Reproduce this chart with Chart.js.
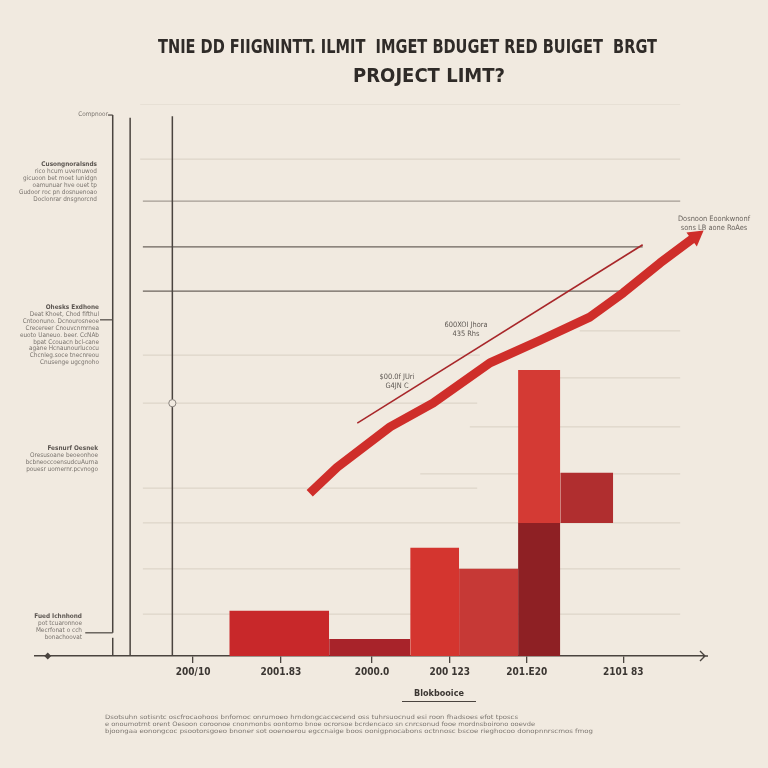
<!DOCTYPE html>
<html>
<head>
<meta charset="utf-8">
<title>Project limit budget</title>
<script src="https://cdn.jsdelivr.net/npm/chart.js@4.4.1/dist/chart.umd.min.js"></script>
<style>
  html, body { margin: 0; padding: 0; background: #F1EAE0; }
  #wrap { position: relative; width: 768px; height: 768px; overflow: hidden;
          font-family: "DejaVu Sans Condensed", "Liberation Sans Narrow", "Liberation Sans", sans-serif; }
  #wrap canvas { position: absolute; left: 0; top: 0; }
  .title { position: absolute; white-space: nowrap; font-family: "Liberation Sans Narrow", "DejaVu Sans Condensed", sans-serif;
           font-weight: bold; font-size: 19px; line-height: 20px; color: #2f2b28; transform-origin: left center; }
  .note { position: absolute; white-space: nowrap; font-size: 6.4px; line-height: 6.9px; color: #7a746e; }
  .note b { color: #5b5550; font-weight: bold; }
  .r { text-align: right; }
  .c { text-align: center; transform: translateX(-50%); }
  .para { position: absolute; left: 105px; white-space: nowrap; font-size: 6px; line-height: 7px; color: #7d7771; transform-origin: left center; }
  #foot { position: absolute; left: 439px; top: 688px; transform: translateX(-50%); font-size: 9px; font-weight: bold; color: #3c3733; }
  #footline { position: absolute; left: 402px; top: 701px; width: 74px; border-top: 1.4px solid #4a443f; }
</style>
</head>
<body>
<div id="wrap">
  <canvas id="myChart" width="768" height="768"></canvas>

  <div class="title" id="t1" data-w="499" style="left:158px; top:36px;">TNIE DD FIIGNINTT. ILMIT&nbsp; IMGET BDUGET RED BUIGET&nbsp; BRGT</div>
  <div class="title" id="t2" data-w="152" style="left:353px; top:65px;">PROJECT LIMT?</div>

  <div class="note r" style="right:660px; top:111px;">Compnoor</div>

  <div class="note r" style="right:671px; top:161px;">
    <b>Cusongnoralsnds</b><br>rico hcum uvernuwod<br>gicuoon bet moet lunidgn<br>oamunuar hve ouet tp<br>Gudoor roc pn dosnuenoao<br>Doclonrar dnsgnorcnd
  </div>

  <div class="note r" style="right:669px; top:304px;">
    <b>Ohesks Exdhone</b><br>Deat Khoet, Chod fifthul<br>Cntoonuno. Dcnourosneoe<br>Crecereer Cnouvcnmrnea<br>euoto Uaneuo. beer. CcNAb<br>bpat Ccouacn bcl-cane<br>agane Hcnaunourlucocu<br>Chcnleg.soce tnecnreou<br>Cnusenge ugcgnoho
  </div>

  <div class="note r" style="right:670px; top:445px;">
    <b>Fesnurf Oesnek</b><br>Oresusoane beoeonhoe<br>bcbneoccoensudcuAurna<br>pouesr uomernr.pcvnogo
  </div>

  <div class="note r" style="right:686px; top:613px;">
    <b>Fued Ichnhond</b><br>pot tcuaronnoe<br>Mecrfonat o cch<br>bonachoovat
  </div>

  <div class="note c" style="left:466px; top:321px; font-size:7.4px; line-height:8.5px; color:#5e5853;">600XOI Jhora<br>435 Rhs</div>
  <div class="note c" style="left:397px; top:373px; font-size:7.4px; line-height:8.5px; color:#5e5853;">$00.0f JUri<br>G4JN C</div>
  <div class="note c" style="left:714px; top:215px; font-size:7.4px; line-height:8.5px; color:#6a645e;">Dosnoon Eoonkwnonf<br>sons LB aone RoAes</div>

  <div id="foot">Blokbooice</div>
  <div id="footline"></div>

  <div class="para" data-w="413" style="top:713px;">Dsotsuhn sotisntc oscfrocaohoos bnfomoc onrumoeo hrndongcaccecend oss tuhrsuocnud esi roon fhadsoes efot tposcs</div>
  <div class="para" data-w="430" style="top:720px;">e onoumotrnt orent Oesoon coroonoe cnonmonbs oontomo bnoe ocrorsoe bcrdencaco sn cnrcsonud fooe mordnsboirono ooevde</div>
  <div class="para" data-w="488" style="top:727px;">bjoongaa eonongcoc psootorsgoeo bnoner sot ooenoerou egccnaige boos oonigpnocabons octnnosc bscoe rieghocoo donopnnrscmos fmog</div>
</div>

<script>
// fit the wide condensed lines to the width they take in the picture
document.querySelectorAll('[data-w]').forEach(function (el) {
    const w = el.getBoundingClientRect().width;
    el.style.transform = 'scaleX(' + (el.dataset.w / w) + ')';
});

// axis ticks
const tickPos = [23.6, 36.7, 50.3, 61.9, 73.4, 87.8];
const tickLabels = ['200/10', '2001.83', '2000.0', '200 123', '201.E20', '2101 83'];

// bars (start / end on x, base / top on y)
const barStart = [29.0, 43.9, 56.0, 63.3, 72.1, 72.1, 78.4];
const barEnd   = [43.9, 56.0, 63.3, 72.1, 78.4, 78.4, 86.3];
const barBase  = [0, 0, 0, 0, 0, 24.1, 24.1];
const barTop   = [8.2, 3.1, 19.6, 15.8, 24.1, 51.8, 33.2];
const barColors = ['#C8282A', '#A8232A', '#D4352F', '#C63936', '#8E2024', '#D43A34', '#B02E2F'];

// thick rising ribbon
const trendX = [41.0, 45.1, 53.0, 59.4, 67.9, 75.4, 82.8, 87.8, 93.3, 98.6];
const trendY = [29.5, 34.2, 41.5, 45.8, 53.1, 57.2, 61.4, 65.8, 71.2, 76.0];

// thin limit line
const limitX = [48.1, 90.7];
const limitY = [42.2, 74.5];

// horizontal guide lines
const gridY    = [100, 90.0, 82.4, 74.1, 66.1, 58.9, 54.5, 50.4, 45.8, 41.5, 33.0, 30.4, 24.1, 15.8, 7.6];
const gridFrom = [15.7, 15.7, 16.1, 16.1, 16.1, 81.3, 16.1, 73.9, 16.1, 64.9, 57.5, 16.1, 16.1, 16.1, 16.1];
const gridTo   = [96.3, 96.3, 96.3, 90.7, 87.8, 96.3, 66.4, 96.3, 66.0, 96.3, 96.3, 66.0, 96.3, 96.3, 96.3];
const gridTone = [0, 0, 1, 2, 2, 0, 0, 0, 0, 0, 0, 0, 0, 0, 0];
const toneColors = ['#DDD5C9', '#A39B93', '#6B635C'];

// vertical rules on the left
const vLineX    = [11.6, 11.6, 14.2, 20.5];
const vLineFrom = [0, 4.2, 0, 0];
const vLineTo   = [3.3, 98.0, 97.5, 97.8];

// short leaders to the side notes
const leaderY    = [98.0, 60.9, 4.2];
const leaderFrom = [10.9, 9.7, 7.5];
const leaderTo   = [11.6, 11.6, 11.6];

const inkColor = '#4A443F';
const datasets = [];

// ribbon
datasets.push({
    data: trendX.map((x, i) => ({ x: x, y: trendY[i] })),
    borderColor: '#CF2E2A',
    borderWidth: 9,
    borderJoinStyle: 'round',
    pointRadius: trendX.map((x, i) => i === trendX.length - 1 ? 10 : 0),
    pointStyle: 'triangle',
    rotation: 53,
    pointBackgroundColor: '#CF2E2A',
    pointBorderWidth: 0,
    clip: false,
    order: 1
});

// limit line
datasets.push({
    data: limitX.map((x, i) => ({ x: x, y: limitY[i] })),
    borderColor: '#A8272A',
    borderWidth: 1.6,
    pointRadius: 0,
    order: 2
});

// bars as filled spans
for (let i = 0; i < barStart.length; i++) {
    datasets.push({
        data: [{ x: barStart[i], y: barTop[i] }, { x: barEnd[i], y: barTop[i] }],
        borderWidth: 0,
        borderColor: 'rgba(0,0,0,0)',
        backgroundColor: barColors[i],
        pointRadius: 0,
        fill: { value: barBase[i] },
        order: 3
    });
}

// guide lines
for (let i = 0; i < gridY.length; i++) {
    datasets.push({
        data: [{ x: gridFrom[i], y: gridY[i] }, { x: gridTo[i], y: gridY[i] }],
        borderColor: toneColors[gridTone[i]],
        borderWidth: gridTone[i] === 0 ? 1.2 : 1.3,
        pointRadius: 0,
        order: 5
    });
}
for (let i = 0; i < vLineX.length; i++) {
    datasets.push({
        data: [{ x: vLineX[i], y: vLineFrom[i] }, { x: vLineX[i], y: vLineTo[i] }],
        borderColor: inkColor,
        borderWidth: 1.5,
        pointRadius: 0,
        order: 4
    });
}
for (let i = 0; i < leaderY.length; i++) {
    datasets.push({
        data: [{ x: leaderFrom[i], y: leaderY[i] }, { x: leaderTo[i], y: leaderY[i] }],
        borderColor: inkColor,
        borderWidth: 1.2,
        pointRadius: 0,
        order: 4
    });
}

// markers: circle on the rule, diamond at the axis start
datasets.push({
    data: [{ x: 20.5, y: 45.8 }],
    showLine: false,
    pointRadius: 3.6,
    pointBackgroundColor: '#F1EAE0',
    pointBorderColor: '#8A847E',
    pointBorderWidth: 1,
    order: 0
});
datasets.push({
    data: [{ x: 1.9, y: 0 }],
    showLine: false,
    pointStyle: 'rectRot',
    pointRadius: 3.5,
    pointBackgroundColor: inkColor,
    pointBorderWidth: 0,
    clip: false,
    order: 0
});

// open arrow at the end of the x axis
const axisArrow = {
    id: 'axisArrow',
    afterDraw(chart) {
        const a = chart.chartArea;
        const ctx = chart.ctx;
        ctx.save();
        ctx.strokeStyle = inkColor;
        ctx.lineWidth = 1.4;
        ctx.beginPath();
        ctx.moveTo(a.right - 2, a.bottom);
        ctx.lineTo(a.right + 3, a.bottom);
        ctx.moveTo(a.right - 5, a.bottom - 5);
        ctx.lineTo(a.right, a.bottom);
        ctx.lineTo(a.right - 5, a.bottom + 5);
        ctx.stroke();
        ctx.restore();
    }
};

const config = {
    type: 'line',
    data: { datasets: datasets },
    options: {
        responsive: false,
        animation: false,
        layout: { padding: { left: 35, right: 63, top: 104, bottom: 82 } },
        elements: { line: { tension: 0 } },
        scales: {
            x: {
                type: 'linear',
                min: 0,
                max: 100,
                afterBuildTicks: function (scale) {
                    scale.ticks = tickPos.map(v => ({ value: v }));
                },
                afterFit: function (scale) {
                    scale.height = 30;
                },
                ticks: {
                    autoSkip: false,
                    maxRotation: 0,
                    padding: 3,
                    color: '#3B3632',
                    font: { family: '"DejaVu Sans Condensed", "Liberation Sans Narrow", sans-serif', size: 10, weight: 'bold' },
                    callback: function (value, index) {
                        return tickLabels[index];
                    }
                },
                grid: { drawOnChartArea: false, drawTicks: true, tickLength: 7, color: inkColor, lineWidth: 1.3 },
                border: { color: inkColor, width: 1.6 }
            },
            y: {
                display: false,
                min: 0,
                max: 100
            }
        },
        plugins: {
            legend: { display: false },
            tooltip: { enabled: false },
            title: { display: false }
        }
    },
    plugins: [axisArrow]
};

const myChart = new Chart(document.getElementById('myChart'), config);
</script>
</body>
</html>
